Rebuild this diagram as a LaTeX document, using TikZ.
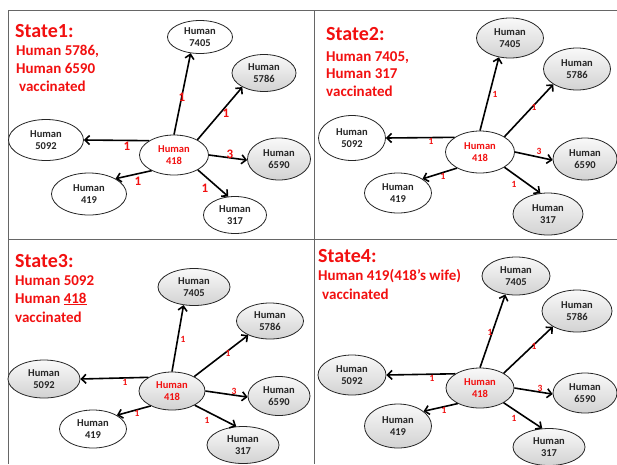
\documentclass[tikz,border=0pt]{standalone}
\usepackage{fontspec}
\setmainfont{Carlito}
\usetikzlibrary{shapes.geometric,arrows.meta}
\definecolor{tred}{RGB}{242,16,16}
\tikzset{
 hnode/.style={ellipse,draw=black!85,line width=0.8pt,inner sep=0pt,align=center,
   font=\fontsize{10.5}{12}\selectfont\bfseries,text=black!85},
 sz/.style 2 args={minimum width=#1pt,minimum height=#2pt},
 wnode/.style={hnode,fill=white},
 gnode/.style={hnode,top color=gray!5,bottom color=gray!35},
 cnode/.style={text=tred},
 link/.style={line width=1.6pt,-{Straight Barb[length=4.5pt,width=9pt]}},
 lbl/.style={text=tred,font=\fontsize{9.5}{9.5}\selectfont\bfseries,inner sep=0pt},
 biglbl/.style={text=tred,font=\fontsize{13}{13}\selectfont\bfseries,inner sep=0pt},
 ttl/.style={text=tred,font=\fontsize{20}{20}\selectfont\bfseries,anchor=base west,inner sep=0pt},
 sub/.style={text=tred,font=\fontsize{15}{15}\selectfont\bfseries,anchor=base west,inner sep=0pt},
 frame/.style={draw=black!60,line width=0.8pt}
}
\begin{document}
\begin{tikzpicture}[x=1pt,y=-1pt]
\useasboundingbox[fill=white] (0,0) rectangle (617,464);
% frame
\draw[frame] (617,10) -- (8,10) -- (8,464);
\draw[frame] (314,10) -- (314,464);
\draw[frame] (8,239) -- (617,239);

% ---------- Panel 1 ----------
\node[ttl] (t1) at (15,37) {State1:};
\node[sub] (t1a) at (16,55) {Human 5786,};
\node[sub] (t1b) at (16,73) {Human 6590};
\node[sub] (t1c) at (19,91) {vaccinated};
\node[wnode,cnode,sz={69}{40}] (p1c) at (174,155) {Human\\418};
\node[wnode,sz={65}{33}] (p1a) at (200,37) {Human\\7405};
\node[gnode,sz={64}{37}] (p1b) at (264,73) {Human\\5786};
\node[wnode,sz={75}{41}] (p1d) at (46,140) {Human\\5092};
\node[gnode,sz={63}{42}] (p1e) at (279,159) {Human\\6590};
\node[wnode,sz={75}{42}] (p1f) at (89,194) {Human\\419};
\node[wnode,sz={63}{37}] (p1g) at (235,215) {Human\\317};
\draw[link] (p1c.north) -- (p1a.240);
\draw[link] (p1c.33) -- (p1b.213);
\draw[link] (p1c.150) -- (p1d.east);
\draw[link] (p1c.east) -- (p1e.182);
\draw[link] (p1c.215) -- (p1f.30);
\draw[link] (p1c.328) -- (p1g.110);
\node[biglbl] (l1a) at (182,97) {1};
\node[biglbl] (l1b) at (226,113) {1};
\node[biglbl] (l1d) at (127,146) {1};
\node[biglbl] (l1e) at (230,154) {3};
\node[biglbl] (l1f) at (138,181) {1};
\node[biglbl] (l1g) at (205,188) {1};

% ---------- Panel 2 ----------
\node[ttl] (t2) at (326,40) {State2:};
\node[sub] (t2a) at (326,61) {Human 7405,};
\node[sub] (t2b) at (326,78) {Human 317};
\node[sub] (t2c) at (326,96) {vaccinated};
\node[wnode,cnode,sz={69}{42}] (p2c) at (480,152) {Human\\418};
\node[gnode,sz={67}{40}] (p2a) at (510,38) {Human\\7405};
\node[gnode,sz={67}{42}] (p2b) at (577,69) {Human\\5786};
\node[wnode,sz={67}{45}] (p2d) at (352,138) {Human\\5092};
\node[gnode,sz={64}{42}] (p2e) at (585,159) {Human\\6590};
\node[wnode,sz={67}{40}] (p2f) at (398,193) {Human\\419};
\node[gnode,sz={70}{42}] (p2g) at (548,214) {Human\\317};
\draw[link] (p2c.north) -- (p2a.240);
\draw[link] (p2c.32) -- (p2b.213);
\draw[link] (p2c.150) -- (p2d.east);
\draw[link] (p2c.east) -- (p2e.182);
\draw[link] (p2c.215) -- (p2f.30);
\draw[link] (p2c.328) -- (p2g.110);
\node[lbl] (l2a) at (495,94) {1};
\node[lbl] (l2b) at (534,107) {1};
\node[lbl] (l2d) at (431,141) {1};
\node[lbl] (l2e) at (539,151) {3};
\node[lbl] (l2f) at (443,176) {1};
\node[lbl] (l2g) at (514,184) {1};

% ---------- Panel 3 ----------
\node[ttl] (t3) at (15,267) {State3:};
\node[sub] (t3a) at (15,285) {Human 5092};
\node[sub] (t3b) at (15,303) {Human \underline{418}};
\node[sub] (t3c) at (15,322) {vaccinated};
\node[gnode,cnode,sz={66}{38}] (p3c) at (172,391) {Human\\418};
\node[gnode,sz={72}{37}] (p3a) at (194,287) {Human\\7405};
\node[gnode,sz={67}{36}] (p3b) at (270,321) {Human\\5786};
\node[gnode,sz={72}{38}] (p3d) at (44,379) {Human\\5092};
\node[gnode,sz={62}{39}] (p3e) at (279,396) {Human\\6590};
\node[wnode,sz={67}{38}] (p3f) at (93,429) {Human\\419};
\node[gnode,sz={72}{37}] (p3g) at (243,445) {Human\\317};
\draw[link] (p3c.north) -- (p3a.240);
\draw[link] (p3c.33) -- (p3b.213);
\draw[link] (p3c.150) -- (p3d.east);
\draw[link] (p3c.east) -- (p3e.182);
\draw[link] (p3c.215) -- (p3f.30);
\draw[link] (p3c.328) -- (p3g.110);
\node[lbl] (l3a) at (183,339) {1};
\node[lbl] (l3b) at (228,353) {1};
\node[lbl] (l3d) at (125,382) {1};
\node[lbl] (l3e) at (234,391) {3};
\node[lbl] (l3f) at (137,413) {1};
\node[lbl] (l3g) at (207,420) {1};

% ---------- Panel 4 ----------
\node[ttl] (t4) at (318,262) {State4:};
\node[sub] (t4a) at (318,280) {Human 419(418’s wife)};
\node[sub] (t4b) at (322,299) {vaccinated};
\node[gnode,cnode,sz={68}{40}] (p4c) at (480,388) {Human\\418};
\node[gnode,sz={68}{38}] (p4a) at (516,276) {Human\\7405};
\node[gnode,sz={70}{42}] (p4b) at (577,311) {Human\\5786};
\node[gnode,sz={68}{40}] (p4d) at (352,375) {Human\\5092};
\node[gnode,sz={64}{40}] (p4e) at (585,393) {Human\\6590};
\node[gnode,sz={67}{44}] (p4f) at (398,426) {Human\\419};
\node[gnode,sz={72}{37}] (p4g) at (549,447) {Human\\317};
\draw[link] (p4c.north) -- (p4a.240);
\draw[link] (p4c.32) -- (p4b.213);
\draw[link] (p4c.150) -- (p4d.east);
\draw[link] (p4c.east) -- (p4e.182);
\draw[link] (p4c.215) -- (p4f.30);
\draw[link] (p4c.328) -- (p4g.110);
\node[lbl] (l4a) at (490,332) {1};
\node[lbl] (l4b) at (534,346) {1};
\node[lbl] (l4d) at (432,378) {1};
\node[lbl] (l4e) at (540,388) {3};
\node[lbl] (l4f) at (444,410) {1};
\node[lbl] (l4g) at (514,418) {1};
\end{tikzpicture}
\end{document}
